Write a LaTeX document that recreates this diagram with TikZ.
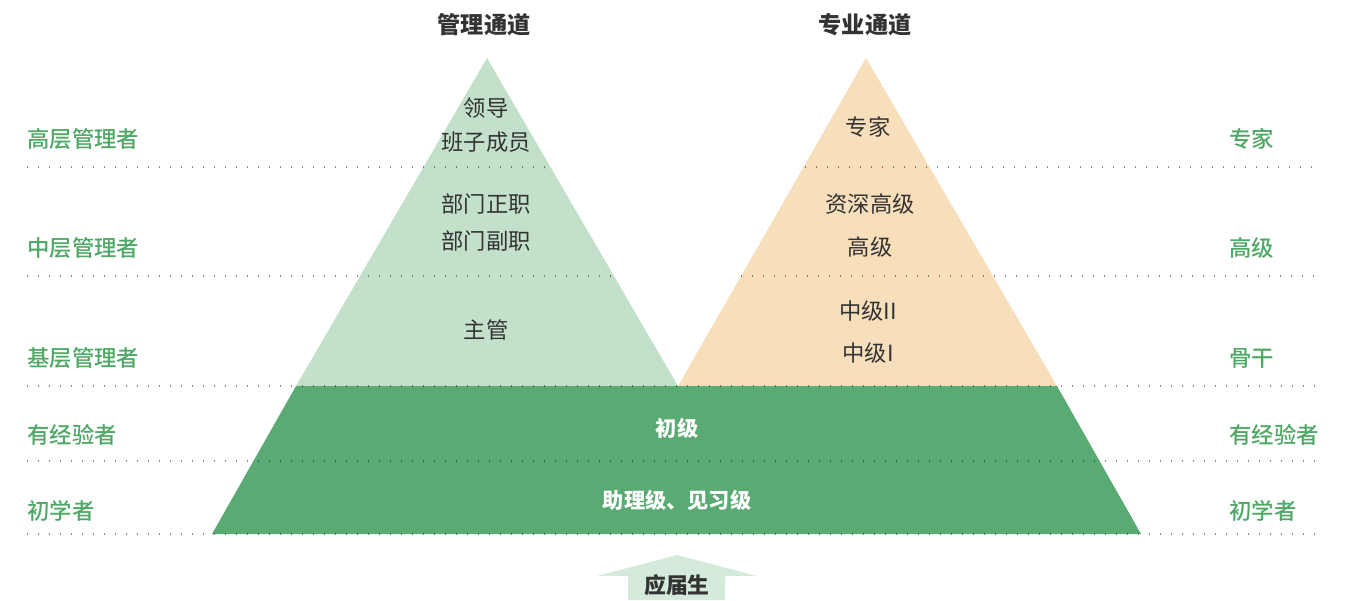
\documentclass[tikz,border=0pt]{standalone}
\usepackage{fontspec}
\setmainfont{Noto Sans CJK SC}
\newfontfamily\medfont{Noto Sans CJK SC Medium}
\definecolor{lgreen}{HTML}{C3E0CA}
\definecolor{lorange}{HTML}{F8DFBC}
\definecolor{dgreen}{HTML}{5AAB73}
\definecolor{lblgreen}{HTML}{4FA866}
\definecolor{txt}{HTML}{333333}
\definecolor{arrowgreen}{HTML}{D4EADA}
\tikzset{
  lbl/.style={text=lblgreen, font=\medfont\fontsize{22.4}{26}\selectfont, anchor=west, inner sep=0pt},
  intxt/.style={text=txt, font=\fontsize{22.3}{26}\selectfont, inner sep=0pt},
  wtxt/.style={text=white, font=\bfseries\fontsize{21.2}{25}\selectfont, inner sep=0pt},
  title/.style={text=txt, font=\bfseries\fontsize{23.2}{27}\selectfont, inner sep=0pt},
  gradtxt/.style={text=txt, font=\bfseries\fontsize{21.8}{26}\selectfont, inner sep=0pt},
  dotline/.style={draw=black, draw opacity=0.45, line width=1.4pt, dash pattern=on 1.4pt off 9.6pt},
}
\begin{document}
\begin{tikzpicture}[x=1pt,y=-1pt]
\useasboundingbox (0,0) rectangle (1348,600);
% shapes
\fill[lgreen] (487,58) -- (678,386) -- (296,386) -- cycle;
\fill[lorange] (866,58) -- (1057,386) -- (678,386) -- cycle;
\fill[dgreen] (296,386) -- (1057,386) -- (1141,534) -- (212,534) -- cycle;
\fill[arrowgreen] (677,555) -- (757,576) -- (725,576) -- (725,600) -- (628,600) -- (628,576) -- (597,576) -- cycle;
% dotted lines
\draw[dotline] (27,167) -- (549,167);
\draw[dotline] (805,167) -- (1320,167);
\draw[dotline] (27,276) -- (612,276);
\draw[dotline] (741,276) -- (1320,276);
\draw[dotline] (27,386) -- (1320,386);
\draw[dotline] (27,461) -- (1320,461);
\draw[dotline] (27,534) -- (1320,534);
% titles
\node[title] (t1) at (484,25) {管理通道};
\node[title] (t2) at (865,25) {专业通道};
% left triangle
\node[intxt] (m1) at (486,108) {领导};
\node[intxt] (m2) at (486,142) {班子成员};
\node[intxt] (m3) at (486,204) {部门正职};
\node[intxt] (m4) at (486,241) {部门副职};
\node[intxt] (m5) at (486,330) {主管};
% right triangle
\node[intxt] (p1) at (868,127) {专家};
\node[intxt] (p2) at (870,204) {资深高级};
\node[intxt] (p3) at (870,247) {高级};
\node[intxt] (p4) at (868,311) {中级II};
\node[intxt] (p5) at (868,353) {中级I};
% base
\node[wtxt] (b1) at (677,428) {初级};
\node[wtxt] (b2) at (677,500) {助理级、见习级};
\node[gradtxt] (grad) at (677,585) {应届生};
% left labels
\node[lbl] (l1) at (27,139) {高层管理者};
\node[lbl] (l2) at (27,248) {中层管理者};
\node[lbl] (l3) at (27,358) {基层管理者};
\node[lbl] (l4) at (27,435) {有经验者};
\node[lbl] (l5) at (27,511) {初学者};
% right labels
\node[lbl] (r1) at (1229,139) {专家};
\node[lbl] (r2) at (1229,248) {高级};
\node[lbl] (r3) at (1229,358) {骨干};
\node[lbl] (r4) at (1229,435) {有经验者};
\node[lbl] (r5) at (1229,511) {初学者};
\end{tikzpicture}
\end{document}
